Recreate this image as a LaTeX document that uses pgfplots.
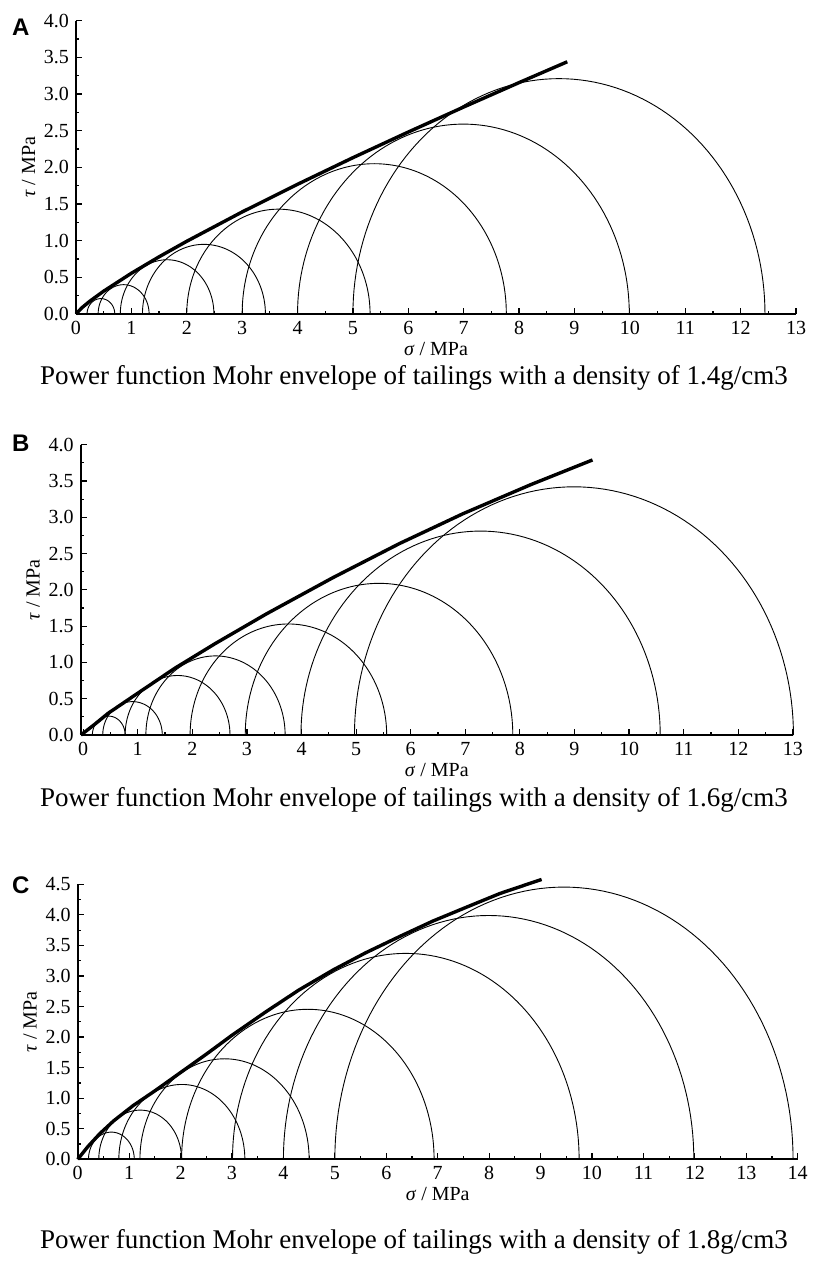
\documentclass[border=0pt]{standalone}
\usepackage{fontspec}
\setmainfont{Liberation Serif}
\newfontfamily\arialf{Liberation Sans}
\usepackage{pgfplots}
\pgfplotsset{compat=1.18}

% Mohr semicircle from sigma3 (#1), sigma1 (#2) and drawn height (#3)
\newcommand{\mohr}[3]{\addplot[black, line width=0.45pt, domain=0:180, samples=91] ({(#1+#2)/2+(#2-#1)/2*cos(x)}, {#3*sin(x)});}

\pgfplotsset{mohrax/.style={
  scale only axis, axis x line=bottom, axis y line=left,
  axis line style={-, line width=0.9pt},
  tick align=inside, major tick length=3pt, minor tick length=1.6pt,
  tick style={black, line width=0.6pt},
  minor x tick num=1, minor y tick num=1,
  yticklabel style={/pgf/number format/.cd, fixed, fixed zerofill, precision=1},
  /pgf/number format/assume math mode=true,
  tick label style={font=\fontsize{10}{11}\selectfont},
  label style={font=\fontsize{10}{11}\selectfont},
  xlabel={\textit{σ} / MPa}, ylabel={\textit{τ} / MPa},
  xlabel style={yshift=3pt}, ylabel style={yshift=-2.5pt},
  clip=false, anchor=south west,
}}
\tikzset{env/.style={black, line width=1.7pt, line join=round}}

\begin{document}
\begin{tikzpicture}
\useasboundingbox (0,0) rectangle (413pt,-633pt);

% ---------- A ----------
\begin{axis}[mohrax, at={(38pt,-157pt)}, width=360pt, height=146.65pt,
  xmin=0, xmax=13, ymin=0, ymax=4, xtick={0,1,...,13}, ytick={0,0.5,1,1.5,2,2.5,3,3.5,4}]
\mohr{0.2}{0.7}{0.21}
\mohr{0.4}{1.32}{0.40}
\mohr{0.8}{2.49}{0.74}
\mohr{1.2}{3.42}{0.95}
\mohr{2.0}{5.31}{1.43}
\mohr{3.0}{7.77}{2.05}
\mohr{4.0}{9.99}{2.59}
\mohr{5.0}{12.44}{3.21}
\addplot[env] coordinates {(0,0) (0.1,0.081) (0.25,0.175) (0.5,0.312) (1,0.556) (1.5,0.78) (2,0.992) (3,1.392) (4,1.769) (5,2.132) (6,2.482) (7,2.823) (8,3.156) (8.87,3.44)};
\end{axis}

% ---------- B ----------
\begin{axis}[mohrax, at={(40.35pt,-367.5pt)}, width=356.1pt, height=145.15pt,
  xmin=-0.044, xmax=13, ymin=0, ymax=4, xtick={0,1,...,13}, ytick={0,0.5,1,1.5,2,2.5,3,3.5,4}]
\mohr{0.17}{0.77}{0.26}
\mohr{0.36}{1.45}{0.46}
\mohr{0.77}{2.69}{0.82}
\mohr{1.15}{3.70}{1.09}
\mohr{1.96}{5.56}{1.53}
\mohr{2.97}{7.87}{2.09}
\mohr{3.99}{10.57}{2.81}
\mohr{4.97}{13.01}{3.42}
\addplot[env] coordinates {(-0.04,0) (0.2,0.14) (0.46,0.30) (0.95,0.55) (1.68,0.92) (2.42,1.26) (3.36,1.67) (4.58,2.17) (5.80,2.64) (6.96,3.05) (8.2,3.45) (9.33,3.79)};
\end{axis}

% ---------- C ----------
\begin{axis}[mohrax, at={(38.85pt,-579.65pt)}, width=360pt, height=137.5pt,
  xmin=0, xmax=14, ymin=0, ymax=4.5, xtick={0,1,...,14}, ytick={0,0.5,1,1.5,2,2.5,3,3.5,4,4.5}]
\mohr{0.21}{1.10}{0.445}
\mohr{0.41}{2.02}{0.805}
\mohr{0.80}{3.25}{1.225}
\mohr{1.21}{4.50}{1.645}
\mohr{2.02}{6.93}{2.455}
\mohr{3.01}{9.75}{3.37}
\mohr{4.00}{11.98}{3.99}
\mohr{5.00}{13.91}{4.455}
\addplot[env] coordinates {(0,0) (0.2,0.21) (0.43,0.42) (0.7,0.63) (1.08,0.88) (1.5,1.12) (2.0,1.42) (2.5,1.72) (3.0,2.03) (3.67,2.42) (4.3,2.77) (4.97,3.10) (5.6,3.38) (6.27,3.65) (6.91,3.90) (7.6,4.14) (8.21,4.35) (9.02,4.58)};
\end{axis}

% panel letters
\node[font=\arialf\bfseries\fontsize{12}{14}\selectfont] at (10.35pt,-13.4pt) {A};
\node[font=\arialf\bfseries\fontsize{12}{14}\selectfont] at (10.35pt,-221.7pt) {B};
\node[font=\arialf\bfseries\fontsize{12}{14}\selectfont] at (10.35pt,-442.5pt) {C};

% captions
\node[font=\fontsize{13.5}{15}\selectfont] at (207pt,-189pt) {Power function Mohr envelope of tailings with a density of 1.4g/cm3};
\node[font=\fontsize{13.5}{15}\selectfont] at (207pt,-400pt) {Power function Mohr envelope of tailings with a density of 1.6g/cm3};
\node[font=\fontsize{13.5}{15}\selectfont] at (207pt,-621pt) {Power function Mohr envelope of tailings with a density of 1.8g/cm3};
\end{tikzpicture}
\end{document}
